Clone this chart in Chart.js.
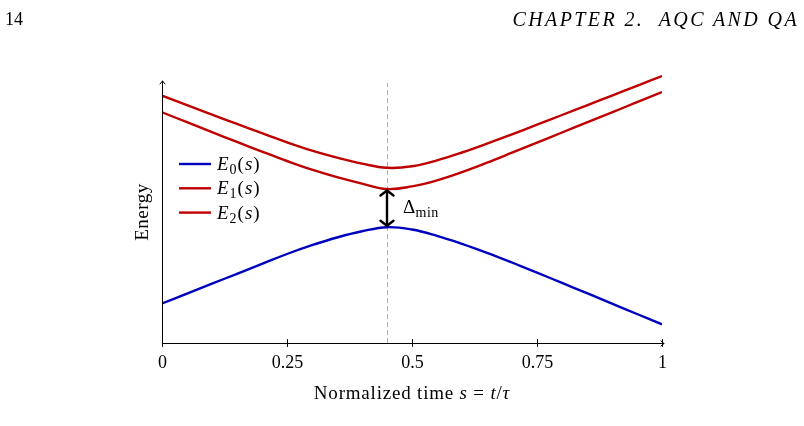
<!DOCTYPE html>
<html>
<head>
<meta charset="utf-8">
<script src="https://cdn.jsdelivr.net/npm/chart.js@4/dist/chart.umd.min.js"></script>
<style>
  html, body { margin: 0; padding: 0; background: #fff; }
  #wrap { position: relative; width: 804px; height: 426px; overflow: hidden; }
  #chart { position: absolute; left: 0; top: 0; }
  .head { position: absolute; top: 10px; font-family: "Liberation Serif", serif; font-size: 20px; line-height: 19px; color: #000; white-space: pre; }
</style>
</head>
<body>
<div id="wrap">
  <canvas id="chart" width="804" height="426"></canvas>
  <div class="head" style="left:5px; font-size:18px">14</div>
  <div class="head" style="right:5px; font-style:italic; letter-spacing:2.4px">CHAPTER 2.  AQC AND QA</div>
</div>
<script>
// normalized time s and the three lowest energy levels (arbitrary units)
const sValues = [0, 0.05, 0.1, 0.15, 0.2, 0.25, 0.3, 0.35, 0.4, 0.45, 0.5,
                 0.55, 0.6, 0.65, 0.7, 0.75, 0.8, 0.85, 0.9, 0.95, 1];
const e0 = [0.395, 0.494, 0.593, 0.692, 0.791, 0.89, 0.978, 1.055, 1.117, 1.158, 1.135,
            1.072, 0.992, 0.902, 0.805, 0.704, 0.601, 0.498, 0.394, 0.29, 0.187];
const e1 = [2.307, 2.208, 2.109, 2.011, 1.914, 1.82, 1.733, 1.658, 1.594, 1.54, 1.566,
            1.626, 1.708, 1.803, 1.903, 2.004, 2.105, 2.206, 2.307, 2.408, 2.51];
const e2 = [2.473, 2.378, 2.284, 2.191, 2.098, 2.007, 1.924, 1.854, 1.794, 1.752, 1.767,
            1.827, 1.905, 1.993, 2.087, 2.183, 2.28, 2.377, 2.474, 2.572, 2.67];
const levelNames = ["0", "1", "2"];
const xTicks = [0, 0.25, 0.5, 0.75, 1];
const xTickLabels = ["0", "0.25", "0.5", "0.75", "1"];
const gapAt = 0.45;

const BLUE = "#0000bf";
const RED = "#bf0000";
const SERIF = '"Liberation Serif", "DejaVu Serif", serif';

function pts(ys) {
  return sValues.map((s, i) => ({ x: s, y: ys[i] }));
}

// draw a run of text pieces: [text, 'r' | 'i' | 'sub', size]
function rich(ctx, parts, x, y, align, base, spacing) {
  const fontOf = p => (p[1] === 'i' ? 'italic ' : '') + (p[2] || base || 18) + 'px ' + SERIF;
  ctx.letterSpacing = (spacing || 0) + 'px';
  const w = parts.map(p => { ctx.font = fontOf(p); return ctx.measureText(p[0]).width; });
  const total = w.reduce((a, b) => a + b, 0);
  let cx = align === 'center' ? x - total / 2 : x;
  parts.forEach((p, i) => {
    ctx.font = fontOf(p);
    ctx.fillText(p[0], cx, y + (p[1] === 'sub' ? 4 : 0));
    cx += w[i];
  });
  ctx.letterSpacing = '0px';
}

function arrowHead(ctx, x, y, dx, dy, len, half) {
  // open chevron pointing in direction (dx, dy)
  ctx.beginPath();
  ctx.moveTo(x - dx * len - dy * half, y - dy * len - dx * half);
  ctx.lineTo(x, y);
  ctx.lineTo(x - dx * len + dy * half, y - dy * len + dx * half);
  ctx.stroke();
}

const frame = {
  id: 'frame',
  beforeDatasetsDraw(chart) {
    const { ctx, scales: { x }, chartArea: a } = chart;
    const xm = Math.round(x.getPixelForValue(gapAt)) + 0.5;
    ctx.save();
    ctx.strokeStyle = '#b0b0b0';
    ctx.lineWidth = 1;
    ctx.setLineDash([5, 3]);
    ctx.beginPath();
    ctx.moveTo(xm, a.bottom);
    ctx.lineTo(xm, 83);
    ctx.stroke();
    ctx.restore();
  },
  afterDatasetsDraw(chart) {
    const { ctx, scales: { x, y }, chartArea: a } = chart;
    ctx.save();
    ctx.strokeStyle = '#000';
    ctx.fillStyle = '#000';
    ctx.lineWidth = 1;
    ctx.lineCap = 'round';

    // axes with arrow tips
    const x0 = Math.round(a.left) + 0.5, yb = Math.round(a.bottom) + 0.5;
    ctx.beginPath();
    ctx.moveTo(x0, yb);
    ctx.lineTo(x0, 81);
    ctx.moveTo(x0, yb);
    ctx.lineTo(a.right + 2, yb);
    ctx.stroke();
    arrowHead(ctx, x0, 81, 0, -1, 3, 2.5);
    arrowHead(ctx, a.right + 2, yb, 1, 0, 3, 2.5);

    // x ticks and labels
    ctx.textAlign = 'center';
    ctx.textBaseline = 'alphabetic';
    ctx.font = '18px ' + SERIF;
    xTicks.forEach((t, i) => {
      const px = Math.round(x.getPixelForValue(t)) + 0.5;
      ctx.beginPath();
      ctx.moveTo(px, yb - 4);
      ctx.lineTo(px, yb + 3);
      ctx.stroke();
      ctx.fillText(xTickLabels[i], px, 368);
    });
    ctx.textAlign = 'left';
    rich(ctx, [["Normalized time ", 'r'], ["s", 'i'], [" = ", 'r'], ["t", 'i'], ["/", 'r'], ["\u03C4", 'i']],
      (a.left + a.right) / 2, 399, 'center', 19, 0.8);

    // y title
    ctx.save();
    ctx.translate(148, 212);
    ctx.rotate(-Math.PI / 2);
    ctx.textAlign = 'center';
    ctx.font = '19px ' + SERIF;
    ctx.letterSpacing = '0.5px';
    ctx.fillText('Energy', 0, 0);
    ctx.restore();

    // minimum gap arrow
    const k = sValues.indexOf(gapAt);
    const xm = x.getPixelForValue(gapAt);
    const top = y.getPixelForValue(e1[k]) + 1.5;
    const bot = y.getPixelForValue(e0[k]) - 1.5;
    ctx.lineWidth = 2.4;
    ctx.lineCap = 'round';
    ctx.lineJoin = 'round';
    ctx.beginPath();
    ctx.moveTo(xm, top);
    ctx.lineTo(xm, bot);
    ctx.stroke();
    arrowHead(ctx, xm, top, 0, -1, 5, 6.5);
    arrowHead(ctx, xm, bot, 0, 1, 5, 6.5);
    ctx.textAlign = 'left';
    rich(ctx, [["\u0394", 'r', 19], ["min", 'sub', 14]], xm + 16, 213, 'left', 19, 0.4);

    // legend
    const colors = [BLUE, RED, RED];
    levelNames.forEach((n, i) => {
      const ly = 164 + i * 24.3;
      ctx.strokeStyle = colors[i];
      ctx.lineWidth = 2.4;
      ctx.lineCap = 'butt';
      ctx.beginPath();
      ctx.moveTo(179, ly);
      ctx.lineTo(211, ly);
      ctx.stroke();
      rich(ctx, [["E", 'i'], [n, 'sub', 14], ["(", 'r'], ["s", 'i'], [")", 'r']], 217, ly + 6, 'left', 19, 1);
    });
    ctx.restore();
  }
};

const line = (data, color) => ({
  data: pts(data),
  borderColor: color,
  borderWidth: 2.4,
  pointRadius: 0,
  fill: false,
  tension: 0.4
});

new Chart(document.getElementById('chart'), {
  type: 'line',
  data: {
    datasets: [line(e0, BLUE), line(e1, RED), line(e2, RED)]
  },
  options: {
    responsive: false,
    animation: false,
    events: [],
    layout: { padding: { left: 162, right: 142, top: 70, bottom: 83 } },
    plugins: { legend: { display: false }, tooltip: { enabled: false } },
    scales: {
      x: { type: 'linear', min: 0, max: 1, display: false },
      y: { min: 0, max: 2.73, display: false }
    }
  },
  plugins: [frame]
});
</script>
</body>
</html>
